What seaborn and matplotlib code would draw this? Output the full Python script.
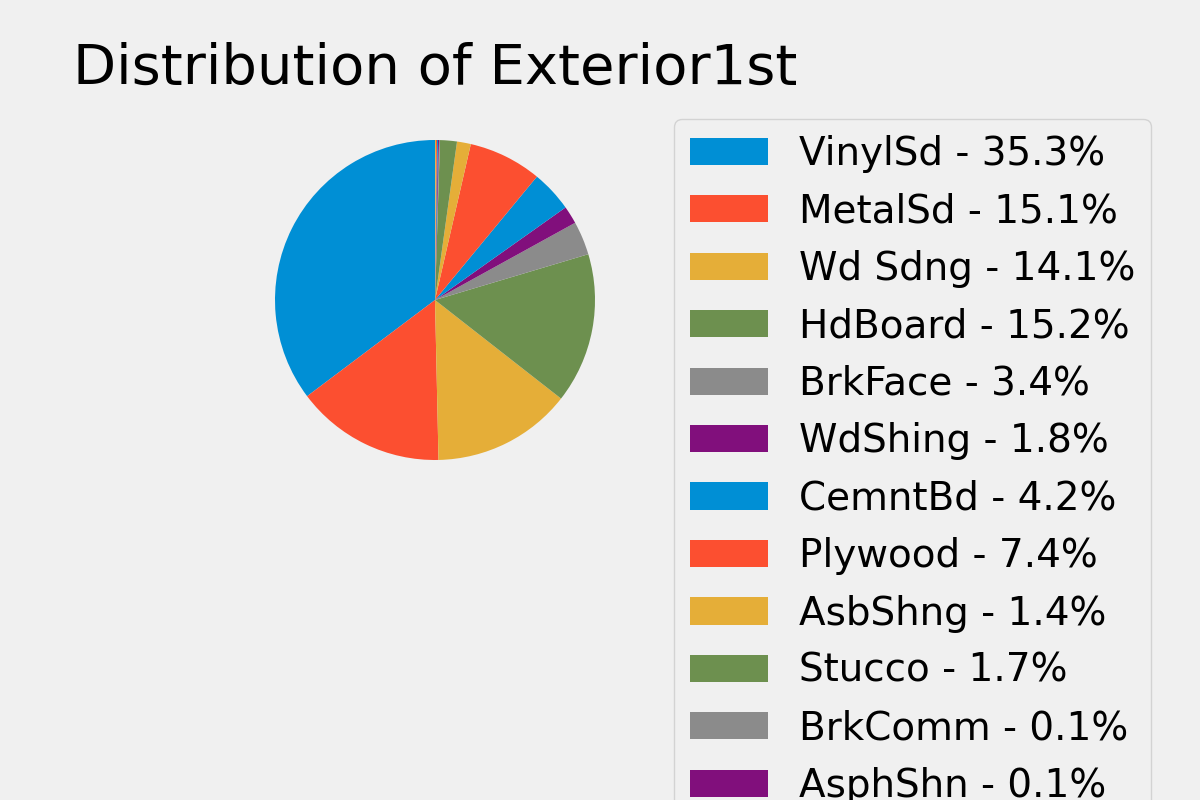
import matplotlib
matplotlib.use('Agg')
import matplotlib.pyplot as plt
import seaborn as sns

categories = ['VinylSd', 'MetalSd', 'Wd Sdng', 'HdBoard', 'BrkFace', 'WdShing', 'CemntBd',
              'Plywood', 'AsbShng', 'Stucco', 'BrkComm', 'AsphShn', 'Stone', 'ImStucc', 'CBlock']
percents = [35.3, 15.1, 14.1, 15.2, 3.4, 1.8, 4.2, 7.4, 1.4, 1.7, 0.1, 0.1, 0.1, 0.1, 0.1]

plt.style.use('fivethirtyeight')
palette = sns.color_palette(['#008fd5', '#fc4f30', '#e5ae38', '#6d904f', '#8b8b8b', '#810f7c'])
colors = [palette[i % len(palette)] for i in range(len(categories))]

fig = plt.figure(figsize=(6, 4), dpi=200)
ax = fig.add_axes([235 / 1200, 300 / 800, 400 / 1200, 400 / 800])
wedges, _ = ax.pie(percents, colors=colors, startangle=90)
ax.set_title('Distribution of Exterior1st')
labels = [f'{c} - {p:.1f}%' for c, p in zip(categories, percents)]
ax.legend(wedges, labels, bbox_to_anchor=(1.05, 1), loc='upper left')
fig.savefig('out.png', dpi=200)
